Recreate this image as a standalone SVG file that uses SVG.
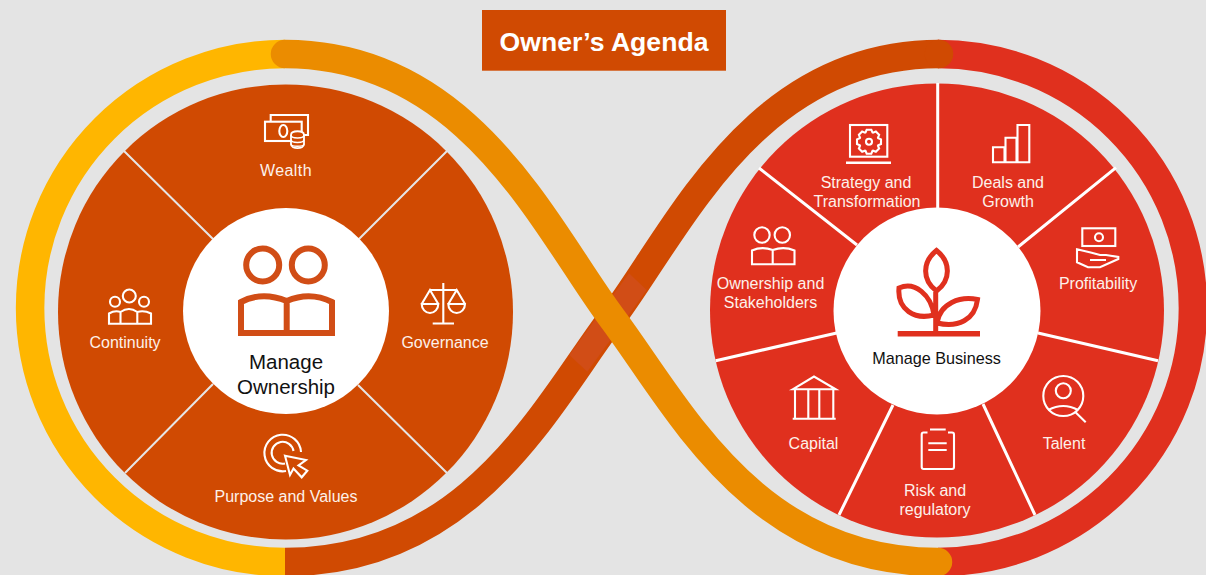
<svg xmlns="http://www.w3.org/2000/svg" width="1206" height="575" viewBox="0 0 1206 575">
<style>
text{font-family:"Liberation Sans",Arial,sans-serif;text-anchor:middle}
.lbl{font-size:16px;fill:#fdf1ea}
.ctr{fill:#111}
.ico{fill:none;stroke:#fff;stroke-width:2.1}
.ribbon{fill:none;stroke-width:28.5}
.div-l{stroke:#e6e6e6;stroke-width:2}
.div-r{stroke:#fff;stroke-width:3}
</style>
<rect width="1206" height="575" fill="#e4e4e4"/>
<g id="connectors">
<path class="ribbon" stroke="#ffb600" d="M285,54 A255,254 0 0 0 285,562"/>
<path class="ribbon" stroke="#e0301e" d="M938,54 A255,254 0 0 1 938,562"/>
<path class="ribbon" stroke="#d04a02" d="M939,54 C754,54 678,230 612,318 C546,406 471,562 285,562"/>
<circle cx="939" cy="54" r="14.250" fill="#d04a02"/>
<polygon points="629,273.300 646.700,290 587.300,371.700 569.300,355" fill="#d14d16"/>
<path class="ribbon" stroke="#eb8c00" stroke-linecap="round" d="M285,54 C470,54 546,230 612,318 C678,406 753,562 938,562"/>
</g>
<g id="title"><rect x="482" y="10" width="244" height="60.700" fill="#d04a02"/><text x="604" y="50.700" font-size="26.600" font-weight="700" fill="#fff">Owner’s Agenda</text></g>
<g id="manage-ownership-disc">
<circle cx="285.500" cy="312" r="227.500" fill="#d04a02"/>
<path class="div-l" d="M124,151 L213,239 M447,151 L359,239 M125,473 L213,384 M447,473 L358,385"/>
<circle cx="286" cy="311" r="103" fill="#fff"/>
</g>
<g id="manage-ownership">
<g fill="none" stroke="#d14d16" stroke-width="6"><circle cx="262.700" cy="265" r="16.500"/><circle cx="308.300" cy="265" r="16.500"/><path d="M241,302 V333 H332 V302 Q310,291 286.700,301 Q262,291 241,302 Z M286.700,301 V333"/></g>
<text class="ctr" x="286" y="368.500" font-size="20.500">Manage</text><text class="ctr" x="286" y="394" font-size="20.500">Ownership</text>
</g>
<g id="wealth">
<path class="ico" d="M270.700,121 V115 H308 V135 H302"/><rect class="ico" x="265" y="121.700" width="36.700" height="19.300"/><ellipse class="ico" cx="283.300" cy="131" rx="4" ry="6"/>
<path d="M291,135 C291,130 304,130 304,135 V144 C304,149.500 291,149.500 291,144 Z" fill="#d04a02" stroke="#fff" stroke-width="1.800"/><path class="ico" d="M291,135 C291,139 304,139 304,135 M291,139.500 C291,143.500 304,143.500 304,139.500 M291,144 C291,147 304,147 304,144" style="stroke-width:1.500"/>
<text class="lbl" x="286" y="176" letter-spacing=".4">Wealth</text>
</g>
<g id="continuity">
<circle class="ico" cx="129.300" cy="296" r="6.500"/><circle class="ico" cx="115" cy="301.700" r="5"/><circle class="ico" cx="144" cy="301.700" r="5"/>
<path class="ico" d="M109,323.800 H151 V313.500 Q144,310 137.300,312 Q129,306 120.500,312 Q115,310 109,313.500 Z M120.500,312 V323.800 M137.300,312 V323.800"/>
<text class="lbl" x="125" y="348">Continuity</text>
</g>
<g id="governance">
<path class="ico" d="M443.300,283 V323 M432.700,323.500 H454 M430,290 H456.700 M421.700,304 L430,290 L438.300,304 M448.300,304 L456.700,290 L465,304"/>
<path class="ico" d="M421.700,304 H438.300 A8.300,9 0 0 1 421.700,304 Z M448.300,304 H465 A8.300,9 0 0 1 448.300,304 Z"/>
<text class="lbl" x="445" y="348">Governance</text>
</g>
<g id="purpose-and-values">
<path class="ico" d="M286,471 A18.300,18.300 0 1 1 301,452"/><path class="ico" d="M285,463.500 A11,11 0 1 1 293.500,451"/>
<path class="ico" d="M285,455.700 L306,460 L298.500,465.500 L307.300,470.700 L301.700,477.300 L293.500,468.500 L290,475 Z"/>
<text class="lbl" x="286" y="501.700">Purpose and Values</text>
</g>
<g id="manage-business-disc">
<circle cx="937" cy="310.500" r="227" fill="#e0301e"/>
<path class="div-r" d="M937.700,83 V208 M1116,167.700 L1018,247 M759,168 L857,245 M715.700,360.700 L836.700,333 M1038,333 L1158,360.700 M893,405 L839,515 M983,404 L1035,515"/>
<circle cx="937" cy="311" r="103.500" fill="#fff"/>
</g>
<g id="manage-business">
<g fill="none" stroke="#e0301e" stroke-width="5"><path d="M936.500,250.500 C922,262 922,280 936.500,291 C951,280 951,262 936.500,250.500 Z M899,288 C915,281 931,295 934,315 C915,320 897,310 899,288 Z M977.500,299.500 C960,296 940,303 937,323 C958,328 975,320 977.500,299.500 Z M935.700,292 V332"/></g>
<rect x="897.700" y="331" width="82.300" height="5.500" fill="#e0301e"/>
<text class="ctr" x="936.500" y="364" font-size="16.200">Manage Business</text>
</g>
<g id="strategy-and-transformation">
<rect class="ico" x="850" y="125" width="37.300" height="31.700"/><rect x="846" y="161.500" width="45" height="2.500" fill="#fff"/>
<g transform="translate(869,141.700)"><path class="ico" d="M-3.500,-9.200 L-2.300,-12 L2.300,-12 L3.500,-9.200 L4.030,-8.980 L6.860,-10.110 L10.110,-6.860 L8.980,-4.030 L9.200,-3.500 L12,-2.300 L12,2.300 L9.200,3.500 L8.980,4.030 L10.110,6.860 L6.860,10.110 L4.030,8.980 L3.500,9.200 L2.300,12 L-2.300,12 L-3.500,9.200 L-4.030,8.980 L-6.860,10.110 L-10.110,6.860 L-8.980,4.030 L-9.200,3.500 L-12,2.300 L-12,-2.300 L-9.200,-3.500 L-8.980,-4.030 L-10.110,-6.860 L-6.860,-10.110 L-4.030,-8.980 Z"/><circle class="ico" r="3"/></g>
<text class="lbl" x="866" y="188">Strategy and</text><text class="lbl" x="867" y="207">Transformation</text>
</g>
<g id="deals-and-growth">
<path class="ico" d="M993,147.300 H1004.500 V162.300 H993 Z M1005.500,137.700 H1016.500 V162.300 H1005.500 Z M1017.500,125 H1029.300 V162.300 H1017.500 Z"/>
<text class="lbl" x="1008" y="188">Deals and</text><text class="lbl" x="1008" y="207">Growth</text>
</g>
<g id="profitability">
<rect class="ico" x="1082.300" y="228.300" width="33" height="17.700"/><circle class="ico" cx="1099" cy="237.300" r="4"/>
<path class="ico" d="M1077,249.300 L1091.700,252.700 L1100,255 H1106 L1118.300,257 V259 L1100,267.300 H1088 L1077,262.300 Z M1090,260 H1106"/>
<text class="lbl" x="1098" y="289">Profitability</text>
</g>
<g id="ownership-and-stakeholders">
<circle class="ico" cx="762" cy="235" r="7.700"/><circle class="ico" cx="782.300" cy="235" r="7.700"/>
<path class="ico" d="M752,250.500 V264.300 H794.500 V250.500 Q784,246 772.700,250 Q762,246 752,250.500 Z M772.700,250 V264.300"/>
<text class="lbl" x="770.500" y="289">Ownership and</text><text class="lbl" x="770.500" y="308">Stakeholders</text>
</g>
<g id="capital">
<path class="ico" d="M792.700,389.300 L814,376.500 L835.700,389.300 Z M795,390 V418 M808.300,390 V418 M819.300,390 V418 M833.300,390 V418 M792.700,418.800 H835.700"/>
<text class="lbl" x="813.500" y="449">Capital</text>
</g>
<g id="talent">
<circle class="ico" cx="1063.300" cy="396" r="20"/><circle class="ico" cx="1063.300" cy="390.700" r="7.500"/>
<path class="ico" d="M1048.300,410 Q1063.300,402 1078,410 M1075,411.700 L1085.700,422.300"/>
<text class="lbl" x="1064" y="449">Talent</text>
</g>
<g id="risk-and-regulatory">
<path class="ico" d="M927.500,432.500 H923.500 Q921.700,432.500 921.700,434.500 V467 Q921.700,469 923.700,469 H952 Q954,469 954,467 V434.500 Q954,432.500 952,432.500 H948 M930,429.500 H945.700 M928.300,443.300 H946.700 M928.300,450 H946.700"/>
<text class="lbl" x="935" y="496">Risk and</text><text class="lbl" x="935" y="515">regulatory</text>
</g>
</svg>
